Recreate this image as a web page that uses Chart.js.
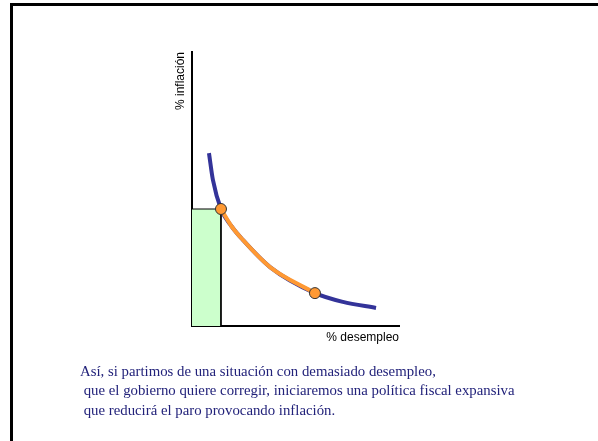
<!DOCTYPE html>
<html><head><meta charset="utf-8">
<script src="https://cdn.jsdelivr.net/npm/chart.js@4"></script>
<style>
html,body{margin:0;padding:0;background:#fff;width:598px;height:441px;overflow:hidden;}
#wrap{position:absolute;left:0;top:0;width:598px;height:441px;}
#frame{position:absolute;left:10px;top:3px;width:600px;height:450px;border-top:3px solid #000;border-left:3px solid #000;}
#txt{position:absolute;left:80px;top:362px;font-family:"Liberation Serif","Times New Roman",serif;font-size:14.8px;line-height:19.3px;color:#22227a;white-space:pre;}
</style></head><body>
<div id="frame"></div>
<div id="wrap"><canvas id="c"></canvas></div>
<div id="txt">Así, si partimos de una situación con demasiado desempleo,
 que el gobierno quiere corregir, iniciaremos una política fiscal expansiva
 que reducirá el paro provocando inflación.</div>
<script>
const curveX = [0.82, 1.01, 1.40, 1.90, 2.46, 3.77, 5.94, 7.29, 8.89];
const curveY = [6.31, 5.33, 4.27, 3.65, 3.14, 2.15, 1.20, 0.88, 0.66];
const moveX = [1.40, 1.90, 2.46, 3.77, 5.94];
const moveY = [4.27, 3.65, 3.14, 2.15, 1.20];
const pointsX = [1.40, 5.94];
const pointsY = [4.27, 1.20];
const rectX = [0, 1.40, 1.40];
const rectY = [4.27, 4.27, 0];
const xTitle = '% desempleo';
const yTitle = '% inflación';

const zip = (xs, ys) => xs.map((x, i) => ({x, y: ys[i]}));

new Chart(document.getElementById('c'), {
  type: 'line',
  data: {
    datasets: [
      {data: zip(rectX, rectY), borderColor: '#000', borderWidth: 1, backgroundColor: '#ccffcc', fill: 'origin', pointRadius: 0, tension: 0, order: 4},
      {data: zip(curveX, curveY), borderColor: '#333399', borderWidth: 4, fill: false, pointRadius: 0, cubicInterpolationMode: 'monotone', order: 3},
      {data: zip(moveX, moveY), borderColor: '#ff9933', borderWidth: 4, fill: false, pointRadius: 0, cubicInterpolationMode: 'monotone', order: 2},
      {data: zip(pointsX, pointsY), showLine: false, pointRadius: 5.5, pointBackgroundColor: '#ff9933', pointBorderColor: '#333333', pointBorderWidth: 1, order: 1}
    ]
  },
  options: {
    responsive: true, maintainAspectRatio: false, animation: false,
    layout: {padding: {left: 169.6, top: 52, right: 199, bottom: 92.6}},
    plugins: {legend: {display: false}, tooltip: {enabled: false}},
    scales: {
      x: {type: 'linear', min: 0, max: 10, grid: {display: false, drawTicks: false}, border: {display: true, color: '#000', width: 2},
          ticks: {display: false},
          title: {display: true, text: xTitle, align: 'end', color: '#000', font: {family: 'Liberation Sans, Arial, sans-serif', size: 12}}},
      y: {type: 'linear', min: 0, max: 10, grid: {display: false, drawTicks: false}, border: {display: true, color: '#000', width: 2},
          ticks: {display: false},
          title: {display: true, text: yTitle, align: 'end', color: '#000', font: {family: 'Liberation Sans, Arial, sans-serif', size: 12}}}
    }
  }
});
</script>
</body></html>
